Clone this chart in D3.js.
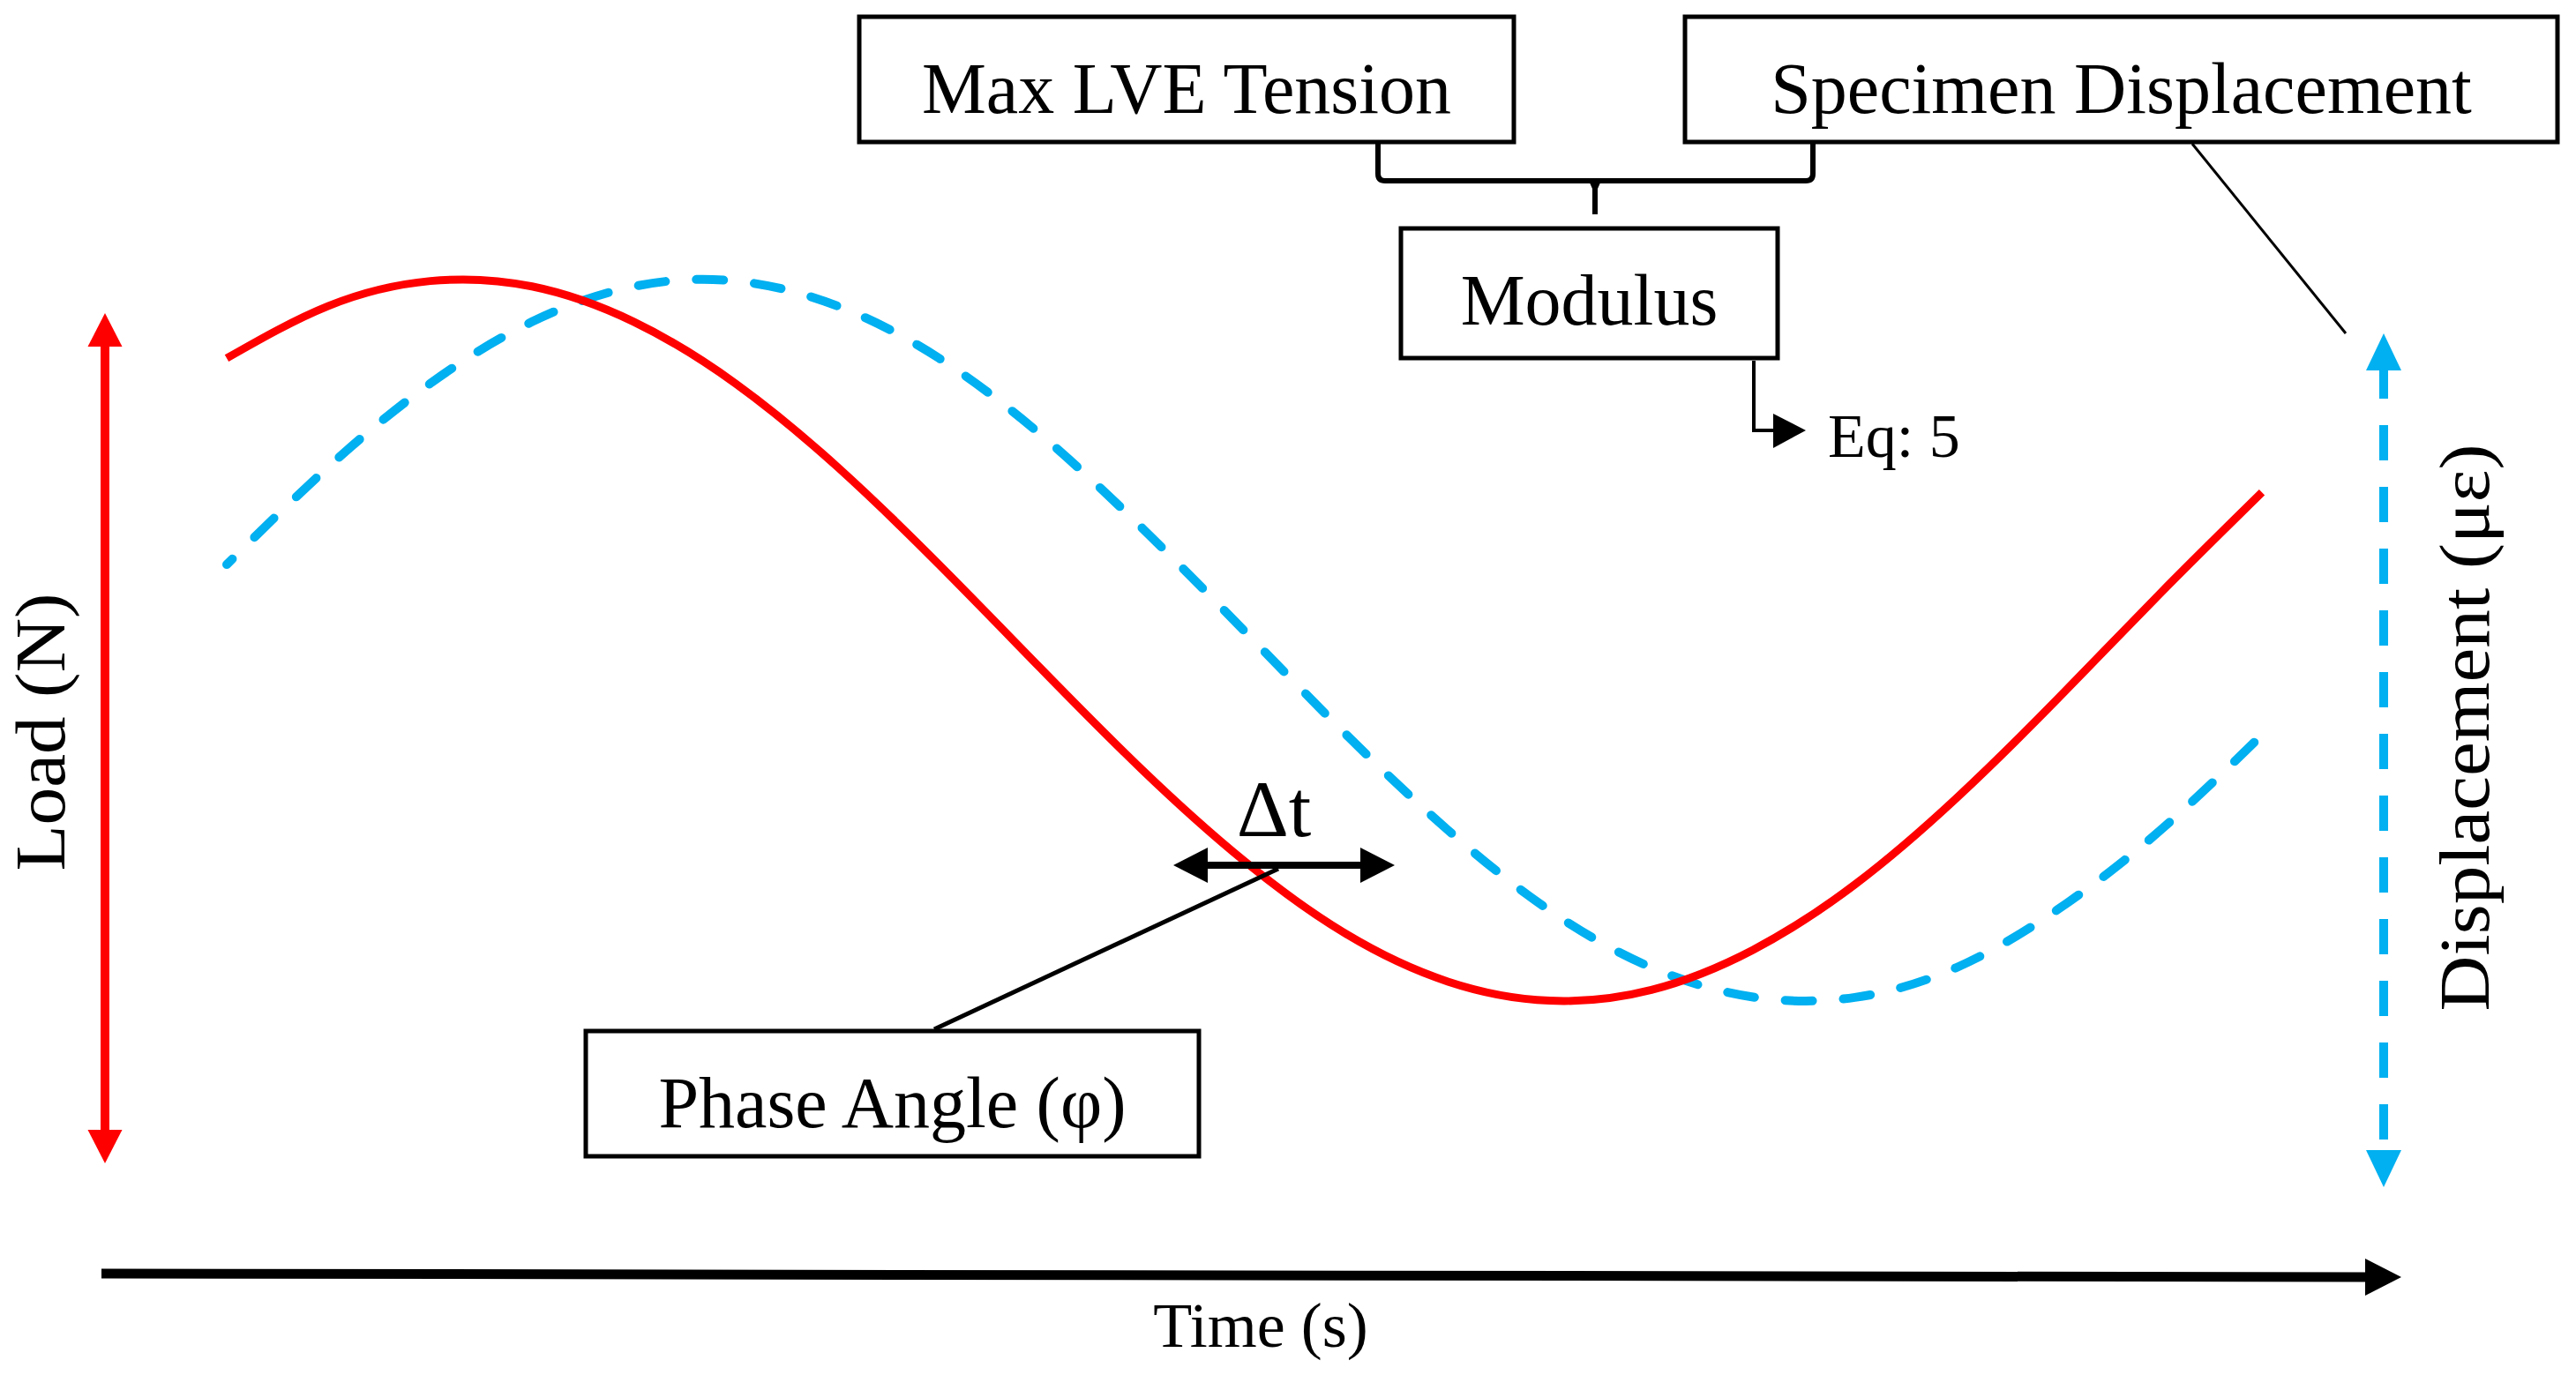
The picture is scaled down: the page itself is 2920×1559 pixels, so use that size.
<!DOCTYPE html>
<html>
<head>
<meta charset="utf-8">
<script src="https://cdn.jsdelivr.net/npm/d3@7"></script>
<style>
  html, body { margin: 0; padding: 0; background: #ffffff; }
  svg { display: block; }
  text { font-family: "Liberation Serif", "Times New Roman", serif; fill: #000; }
</style>
</head>
<body>
<script>
// ---- data ----
const time = [0, 5, 10, 15, 20, 25, 30, 35, 40, 45, 50, 55, 60, 65, 70, 75, 80, 85, 90, 95, 100];
const loadValues = [0.782, 0.927, 0.996, 0.981, 0.883, 0.712, 0.481, 0.210, -0.078, -0.360, -0.612, -0.814, -0.946, -0.999, -0.969, -0.858, -0.677, -0.437, -0.160, 0.130, 0.410];
const displacementValues = [0.210, 0.481, 0.712, 0.883, 0.981, 0.996, 0.927, 0.782, 0.570, 0.310, 0.026, -0.261, -0.526, -0.749, -0.907, -0.989, -0.990, -0.907, -0.745, -0.527, -0.262];
const axisLabels = { x: "Time (s)", yLeft: "Load (N)", yRight: "Displacement (\u03bc\u03b5)" };
const boxLabels = ["Max LVE Tension", "Specimen Displacement", "Modulus", "Phase Angle (\u03c6)"];
const noteLabels = ["Eq: 5", "\u0394t"];

const W = 2920, H = 1559;
const RED = "#ff0000", BLUE = "#00b0f0";

const svg = d3.select("body").append("svg").attr("width", W).attr("height", H);
svg.append("rect").attr("width", W).attr("height", H).attr("fill", "#fff");

const x = d3.scaleLinear().domain([0, 100]).range([257, 2564]);
const y = d3.scaleLinear().domain([-1, 1]).range([1135, 317]);

const line = d3.line().x((d, i) => x(time[i])).y(d => y(d)).curve(d3.curveNatural);

// curves
svg.append("path").datum(displacementValues)
  .attr("d", line).attr("fill", "none").attr("stroke", BLUE)
  .attr("stroke-width", 10).attr("stroke-linecap", "round")
  .attr("stroke-dasharray", "31 35").attr("stroke-dashoffset", 22);
svg.append("path").datum(loadValues)
  .attr("d", line).attr("fill", "none").attr("stroke", RED)
  .attr("stroke-width", 9);

// helpers
function vArrow(cx, yTop, yBot, headW, headL, shaftW, color, dash) {
  const g = svg.append("g");
  g.append("line").attr("x1", cx).attr("x2", cx)
    .attr("y1", yTop + headL - 8).attr("y2", yBot - headL + 8)
    .attr("stroke", color).attr("stroke-width", shaftW)
    .attr("stroke-dasharray", dash || null);
  g.append("path").attr("fill", color)
    .attr("d", `M${cx},${yTop} L${cx + headW / 2},${yTop + headL} L${cx - headW / 2},${yTop + headL} Z`);
  g.append("path").attr("fill", color)
    .attr("d", `M${cx},${yBot} L${cx + headW / 2},${yBot - headL} L${cx - headW / 2},${yBot - headL} Z`);
}
function box(x0, y0, x1, y1, label, baseline, fs) {
  svg.append("rect").attr("x", x0).attr("y", y0).attr("width", x1 - x0).attr("height", y1 - y0)
    .attr("fill", "#fff").attr("stroke", "#000").attr("stroke-width", 5);
  svg.append("text").attr("x", (x0 + x1) / 2).attr("y", baseline)
    .attr("text-anchor", "middle").attr("font-size", fs).text(label);
}

// left (load) arrow
vArrow(119, 355, 1319, 39, 38, 10, RED);
// right (displacement) arrow - dashed
svg.append("line").attr("x1", 2702).attr("x2", 2702).attr("y1", 412).attr("y2", 1304)
  .attr("stroke", BLUE).attr("stroke-width", 10).attr("stroke-dasharray", "40 30");
svg.append("path").attr("fill", BLUE).attr("d", "M2702,378 L2722,420 L2682,420 Z");
svg.append("path").attr("fill", BLUE).attr("d", "M2702,1346 L2722,1304 L2682,1304 Z");

// time axis
svg.append("line").attr("x1", 115).attr("y1", 1444).attr("x2", 2690).attr("y2", 1448)
  .attr("stroke", "#000").attr("stroke-width", 11);
svg.append("path").attr("fill", "#000").attr("d", "M2722,1448 L2681,1427 L2681,1469 Z");

// axis labels
svg.append("text").attr("x", 1429).attr("y", 1527).attr("text-anchor", "middle")
  .attr("font-size", 72).text(axisLabels.x);
svg.append("text").attr("transform", "translate(73,830) rotate(-90)").attr("text-anchor", "middle")
  .attr("font-size", 80).attr("textLength", 315).attr("lengthAdjust", "spacingAndGlyphs").text(axisLabels.yLeft);
svg.append("text").attr("transform", "translate(2821,825) rotate(-90)").attr("text-anchor", "middle")
  .attr("font-size", 80).attr("textLength", 643).attr("lengthAdjust", "spacingAndGlyphs").text(axisLabels.yRight);

// bracket joining the two top boxes
svg.append("path").attr("fill", "none").attr("stroke", "#000").attr("stroke-width", 6)
  .attr("d", "M1562,160 L1562,197 Q1562,205 1570,205 L2047,205 Q2055,205 2055,197 L2055,160");
svg.append("path").attr("fill", "#000")
  .attr("d", "M1801,205 L1815,205 L1811,214 L1811,243 L1805,243 L1805,214 Z");

// leader lines
svg.append("line").attr("x1", 2485).attr("y1", 163).attr("x2", 2659).attr("y2", 378)
  .attr("stroke", "#000").attr("stroke-width", 3);
svg.append("line").attr("x1", 1449).attr("y1", 985).attr("x2", 1059).attr("y2", 1167)
  .attr("stroke", "#000").attr("stroke-width", 5);

// modulus -> Eq: 5 connector
svg.append("path").attr("fill", "none").attr("stroke", "#000").attr("stroke-width", 4)
  .attr("d", "M1988,409 L1988,488 L2014,488");
svg.append("path").attr("fill", "#000").attr("d", "M2047,488 L2010,469 L2010,508 Z");
svg.append("text").attr("x", 2072).attr("y", 518).attr("font-size", 70).text(noteLabels[0]);

// delta-t arrow
svg.append("line").attr("x1", 1360).attr("x2", 1551).attr("y1", 981).attr("y2", 981)
  .attr("stroke", "#000").attr("stroke-width", 8);
svg.append("path").attr("fill", "#000").attr("d", "M1330,981 L1369,961 L1369,1001 Z");
svg.append("path").attr("fill", "#000").attr("d", "M1581,981 L1542,961 L1542,1001 Z");
svg.append("text").attr("x", 1444).attr("y", 948).attr("text-anchor", "middle")
  .attr("font-size", 92).text(noteLabels[1]);

// boxes
box(974, 19, 1716, 161, boxLabels[0], 128, 82);
box(1910, 19, 2899, 161, boxLabels[1], 128, 82);
box(1588, 259, 2015, 406, boxLabels[2], 368, 82);
box(664, 1169, 1359, 1311, boxLabels[3], 1278, 82);
</script>
</body>
</html>
